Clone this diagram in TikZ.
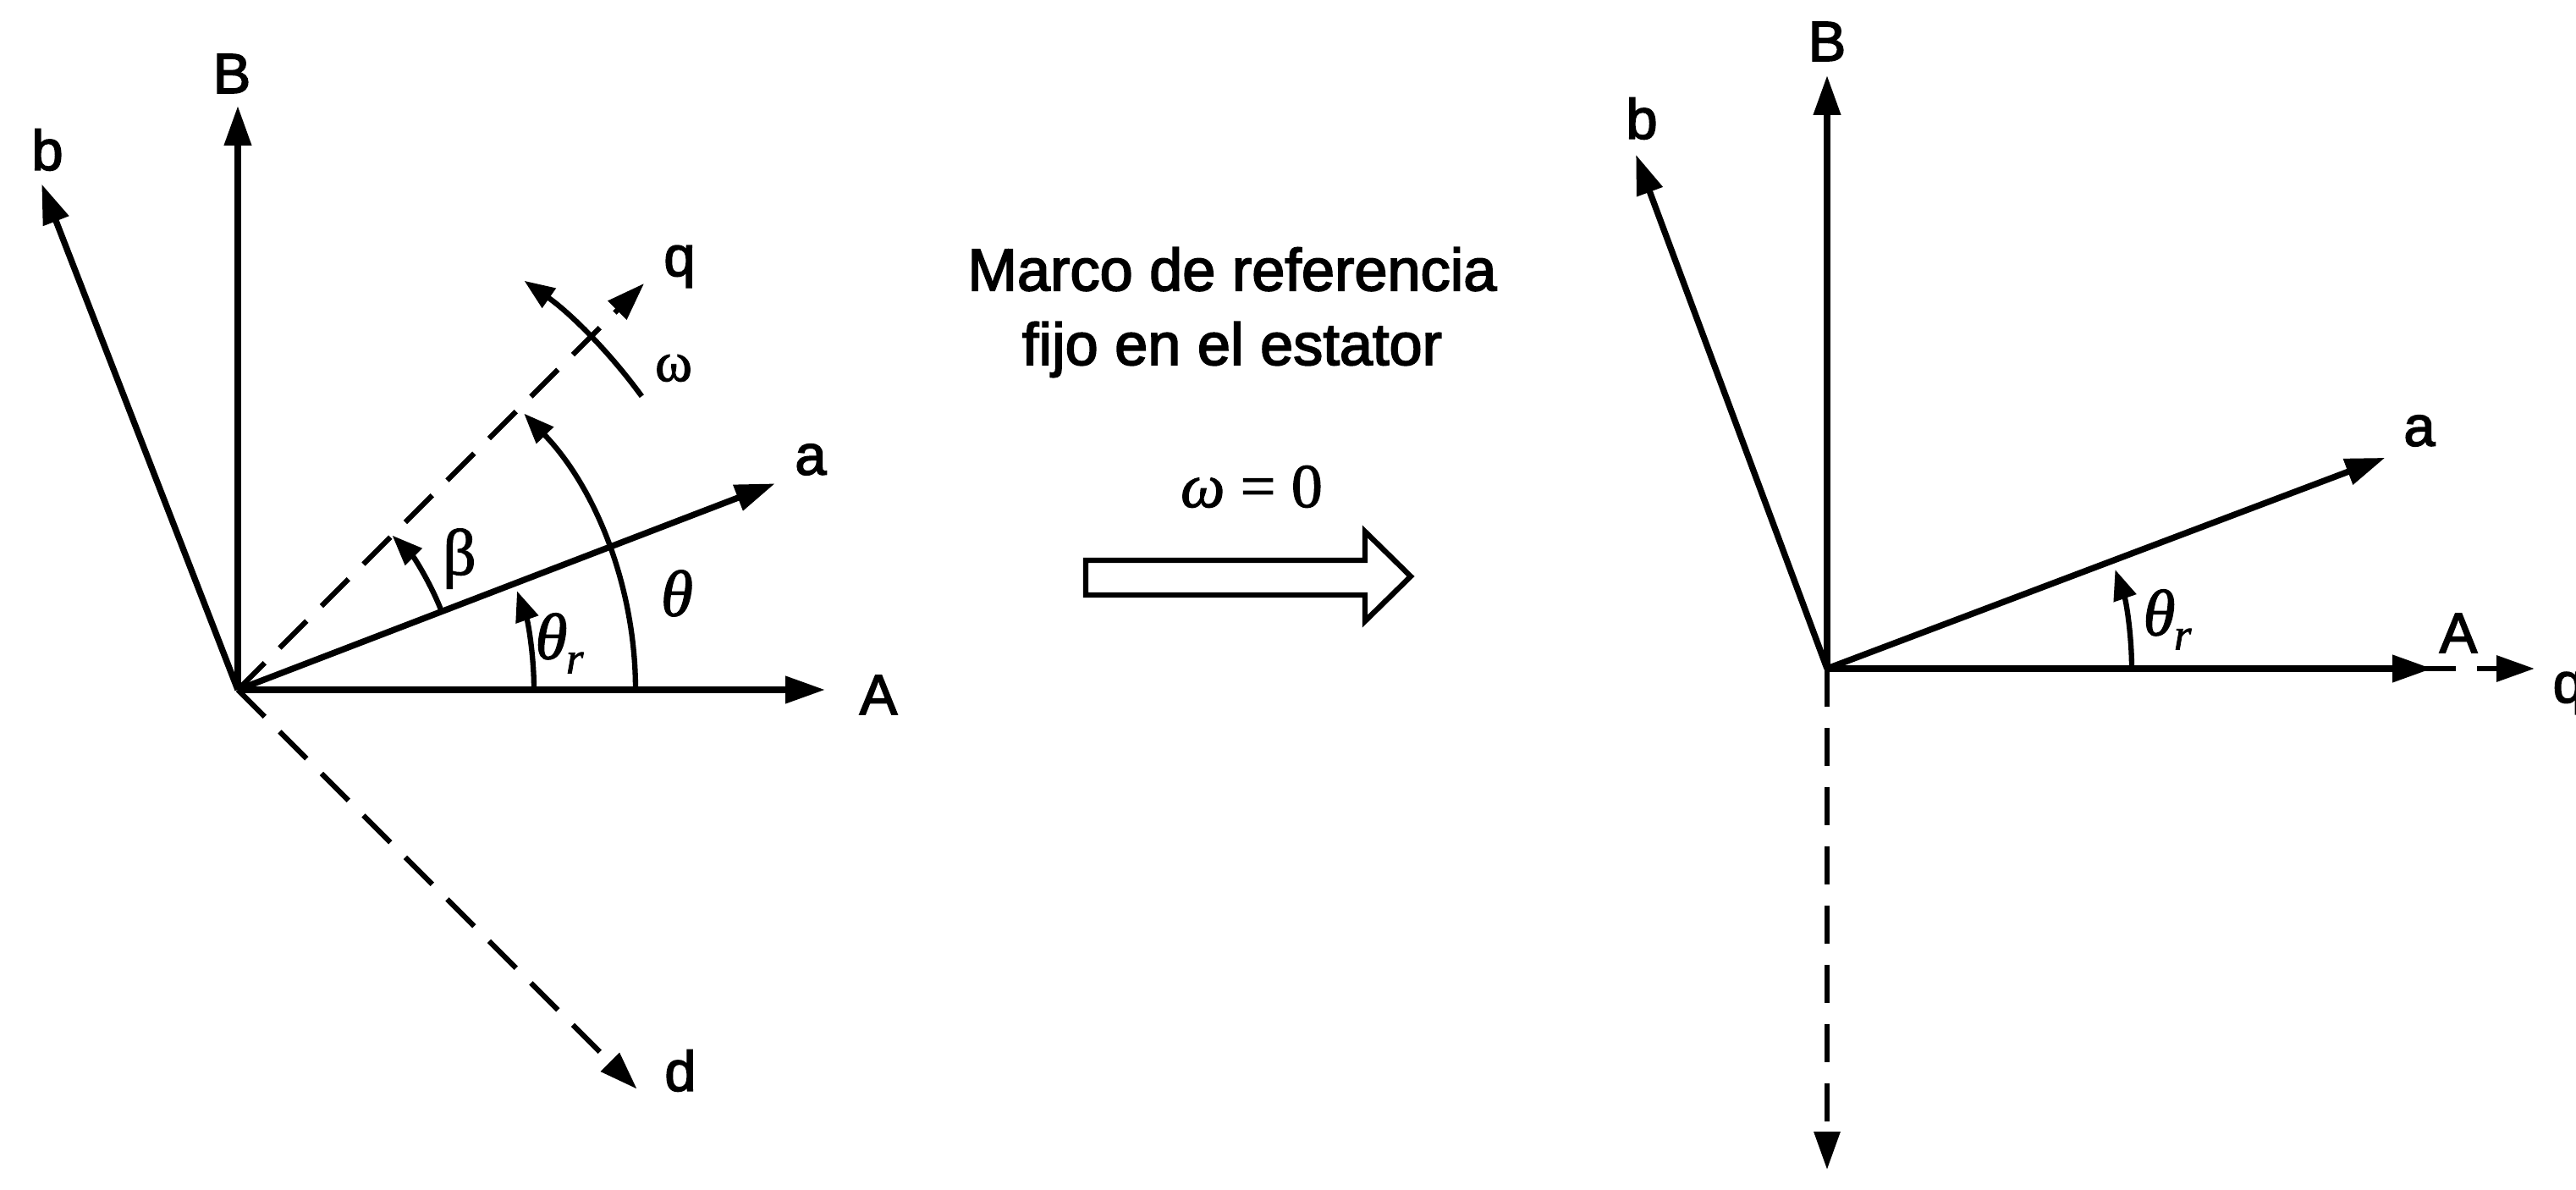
\documentclass[tikz,border=0pt]{standalone}
\usepackage{fontspec}
\setmainfont{Liberation Sans}[FakeBold=2.5]
\newfontfamily\grkfont{Liberation Serif}[FakeBold=1.5]
\usetikzlibrary{arrows.meta,calc}
\newcommand{\thr}{{\grkfont\itshape θ\kern-0.02em\raisebox{-0.22em}{\fontsize{15}{17}\selectfont r}}}
\begin{document}
\begin{tikzpicture}[
  axis/.style={line width=2.1pt, -{Triangle[length=0.47cm,width=0.31cm]}},
  daxis/.style={line width=1.8pt, dash pattern=on 0.45cm off 0.25cm, -{Triangle[length=0.45cm,width=0.30cm]}},
  angarc/.style={line width=1.8pt, -{Triangle[length=0.36cm,width=0.27cm]}},
  lbl/.style={font=\fontsize{19}{23}\selectfont, inner sep=0pt},
  glbl/.style={font=\fontsize{22}{26}\selectfont\grkfont, inner sep=0pt},
  mlbl/.style={font=\fontsize{20}{25}\selectfont, inner sep=0pt},
  hollow/.style={line width=1.8pt, line join=miter}
]
\useasboundingbox (0,0) rectangle (30.44,14.05);

% ---------------- left diagram ----------------
\coordinate (O1) at (2.81,5.90);
\path (O1) ++(0:6.94) coordinate (A1)
      (O1) ++(21:6.80) coordinate (a1)
      (O1) ++(45:6.79) coordinate (q1)
      (O1) ++(90:6.90) coordinate (B1)
      (O1) ++(111.2:6.41) coordinate (b1)
      (O1) ++(-45:6.67) coordinate (d1);

\draw[daxis] (O1) -- (q1);
\draw[daxis] (O1) -- (d1);
\draw[axis] (O1) -- (A1);
\draw[axis] (O1) -- (a1);
\draw[axis] (O1) -- (B1);
\draw[axis] (O1) -- (b1);

% angle arcs
\draw[angarc] (O1) ++(0:4.70) arc[start angle=0, end angle=44, radius=4.70cm];
\draw[angarc] (O1) ++(0:3.50) arc[start angle=0, end angle=19.5, radius=3.50cm];
\draw[angarc] (O1) ++(21:2.58) arc[start angle=21, end angle=45, radius=2.58cm];
\draw[angarc] (O1) ++(36:5.90) arc[start angle=36, end angle=55, radius=5.90cm];

% labels
\node[lbl] (lb1) at ($(O1)+(-2.25,6.38)$) {b};
\node[lbl] (lB1) at ($(O1)+(-0.07,7.28)$) {B};
\node[lbl] (lq1) at ($(O1)+(5.22,5.00)$) {q};
\node[lbl, font=\fontsize{19}{23}\selectfont\grkfont] (lw1) at ($(O1)+(5.15,3.80)$) {ω};
\node[lbl] (la1) at ($(O1)+(6.77,2.72)$) {a};
\node[lbl] (lA1) at ($(O1)+(7.57,-0.06)$) {A};
\node[glbl] (lth1) at ($(O1)+(5.19,1.14)$) {\itshape θ};
\node[glbl] (lthr1) at ($(O1)+(3.80,0.55)$) {\thr};
\node[glbl] (lbeta1) at ($(O1)+(2.62,1.55)$) {β};
\node[lbl] (ld1) at ($(O1)+(5.23,-4.50)$) {d};

% ---------------- middle ----------------
\node[mlbl, align=center] (frame) at (14.56,10.36) {Marco de referencia\\fijo en el estator};
\node[glbl, font=\fontsize{21}{25}\selectfont\grkfont] (w0) at (14.79,8.30) {{\itshape ω} = 0};
\draw[hollow] (12.83,7.02) -- (12.83,7.43) -- (16.13,7.43) -- (16.13,7.77)
   -- (16.67,7.24) -- (16.13,6.71) -- (16.13,7.02) -- cycle;

% ---------------- right diagram ----------------
\coordinate (O2) at (21.59,6.15);
\path (O2) ++(0:7.15) coordinate (A2)
      (O2) ++(0:8.36) coordinate (q2)
      (O2) ++(20.7:7.05) coordinate (a2)
      (O2) ++(90:7.01) coordinate (B2)
      (O2) ++(110.4:6.48) coordinate (b2)
      (O2) ++(-90:5.92) coordinate (d2);

\draw[daxis, dash phase=0.02cm] (O2) -- (q2);
\draw[daxis] (O2) -- (d2);
\draw[axis] (O2) -- (A2);
\draw[axis] (O2) -- (a2);
\draw[axis] (O2) -- (B2);
\draw[axis] (O2) -- (b2);

\draw[angarc] (O2) ++(0:3.60) arc[start angle=0, end angle=19, radius=3.60cm];

\node[lbl] (lb2) at ($(O2)+(-2.19,6.50)$) {b};
\node[lbl] (lB2) at ($(O2)+(0,7.41)$) {B};
\node[lbl] (la2) at ($(O2)+(7.00,2.81)$) {a};
\node[lbl] (lA2) at ($(O2)+(7.46,0.42)$) {A};
\node[glbl] (lthr2) at ($(O2)+(4.02,0.58)$) {\thr};
\node[lbl, anchor=base west] (lq2) at ($(O2)+(8.57,-0.40)$) {q};
\end{tikzpicture}
\end{document}
